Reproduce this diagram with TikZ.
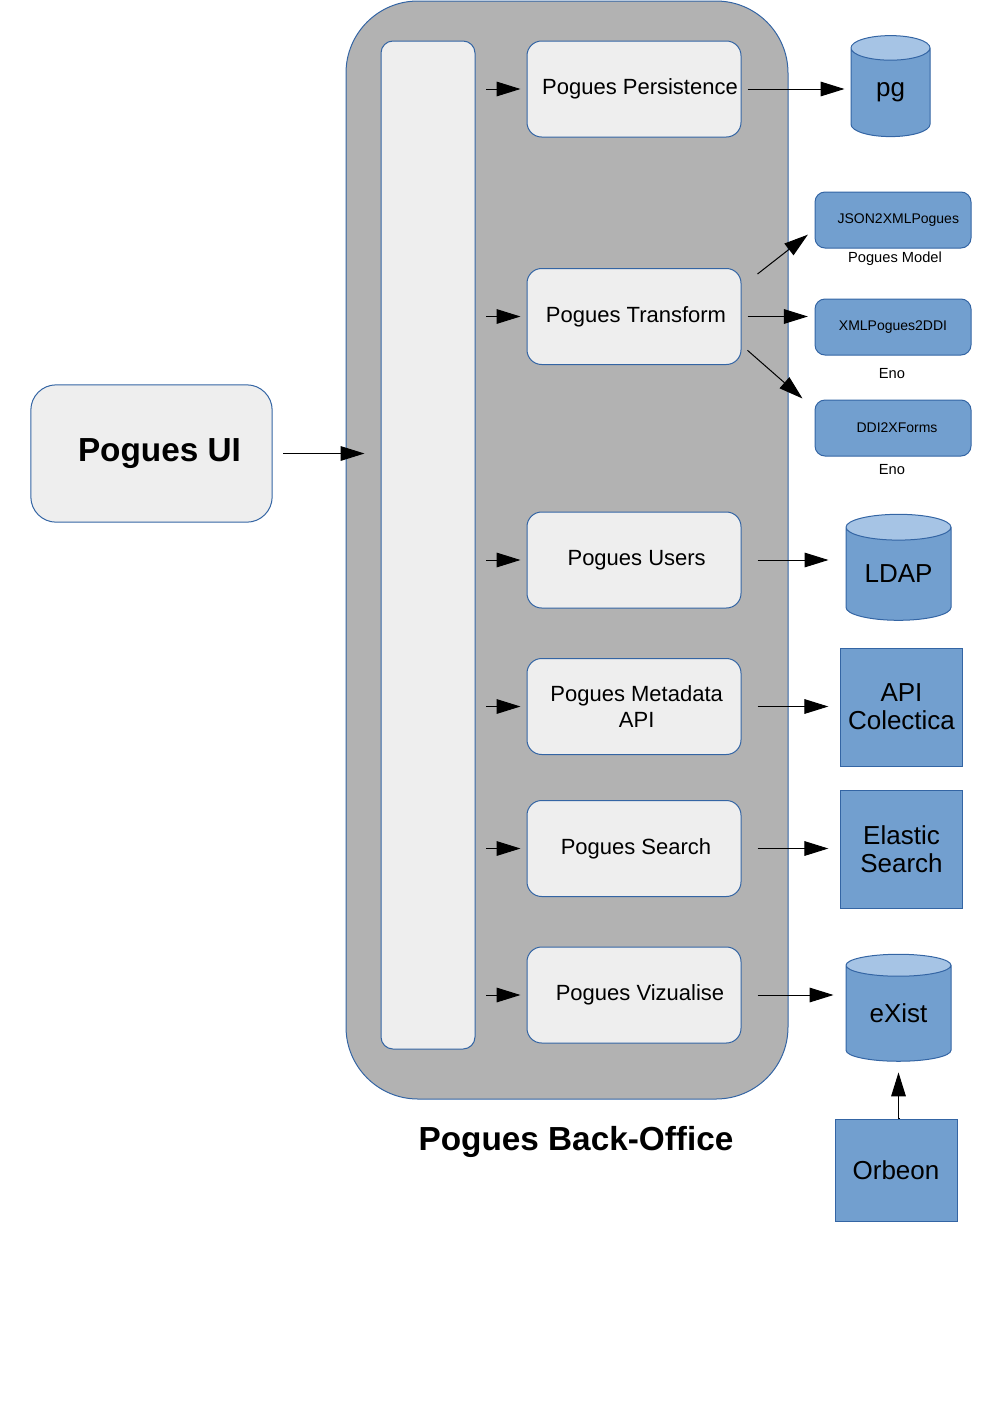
\documentclass[tikz,border=0pt]{standalone}
\usepackage{fontspec}
\setmainfont{Liberation Sans}
\usetikzlibrary{shapes.geometric, arrows.meta, positioning}
\definecolor{officegray}{RGB}{178, 178, 178}
\definecolor{boxgray}{RGB}{238, 238, 238}
\definecolor{toolblue}{RGB}{114, 159, 207}
\definecolor{dbtop}{RGB}{166, 196, 229}
\definecolor{edgeblue}{RGB}{52, 101, 164}

\tikzset{
  service/.style={draw=edgeblue, fill=boxgray, rounded corners=11pt, line width=0.75pt,
                  minimum width=160.5pt, minimum height=72pt, inner sep=0pt, align=center,
                  font=\fontsize{16.5}{20}\selectfont},
  tool/.style={draw=edgeblue, fill=toolblue, rounded corners=7.5pt, line width=0.75pt,
               minimum width=117pt, minimum height=42pt, inner sep=0pt,
               font=\fontsize{10.5}{12}\selectfont},
  store/.style={draw=edgeblue, fill=toolblue, line width=0.75pt, minimum width=91pt,
                minimum height=88.5pt, inner sep=0pt, align=center,
                font=\fontsize{19.5}{21}\selectfont},
  db/.style={cylinder, shape border rotate=90, draw=edgeblue, line width=0.75pt,
             cylinder uses custom fill, cylinder body fill=toolblue, cylinder end fill=dbtop,
             inner sep=0pt, font=\fontsize{19.5}{21}\selectfont},
  note/.style={font=\fontsize{11}{13}\selectfont},
  link/.style={-{Triangle[length=18pt, width=11pt]}, line width=0.75pt}
}

\begin{document}
\begin{tikzpicture}[x=0.75pt, y=-0.75pt]
  \useasboundingbox (0,0) rectangle (992,1403);

  % back-office container
  \node[draw=edgeblue, fill=officegray, rounded corners=54pt, line width=0.75pt,
        minimum width=331.5pt, minimum height=823.5pt] (office) at (567,550) {};
  \node[draw=edgeblue, fill=boxgray, rounded corners=9pt, line width=0.75pt,
        minimum width=70.5pt, minimum height=756pt] (bar) at (428,545) {};
  \node[font=\fontsize{25}{30}\selectfont\bfseries] (title) at (576,1142) {Pogues Back-Office};

  % front end
  \node[draw=edgeblue, fill=boxgray, rounded corners=19pt, line width=0.75pt,
        minimum width=181pt, minimum height=103pt,
        font=\fontsize{25}{30}\selectfont\bfseries] (ui) at (151.5,453.5) {\hspace{12pt}Pogues UI};

  % services
  \node[service] (persist) at (634,89) {\hspace{9pt}Pogues Persistence};
  \node[service] (transform) at (634,316.5) {\hspace{3pt}Pogues Transform};
  \node[service] (users) at (634,560) {\hspace{4pt}Pogues Users};
  \node[service] (metadata) at (634,706.5) {\hspace{4pt}Pogues Metadata\\\hspace{4pt}API};
  \node[service] (search) at (634,848.5) {\hspace{3pt}Pogues Search};
  \node[service] (vizualise) at (634,995) {\hspace{9pt}Pogues Vizualise};

  % transformation tools
  \node[tool] (json) at (893,220) {\hspace{8pt}JSON2XMLPogues};
  \node[note] (jsonlabel) at (895,259) {Pogues Model};
  \node[tool] (xml) at (893,327) {XMLPogues2DDI};
  \node[note] (xmllabel) at (892,374) {Eno};
  \node[tool] (ddi) at (893,428) {\hspace{6pt}DDI2XForms};
  \node[note] (ddilabel) at (892,470) {Eno};

  % storage
  \node[db, minimum width=79pt*0.75, minimum height=101pt*0.75, aspect=0.85] (pg) at (890.5,92.5) {pg};
  \node[db, minimum width=105pt*0.75, minimum height=106pt*0.75, aspect=0.38] (ldap) at (898.5,574) {LDAP};
  \node[store] (colectica) at (901.5,707) {API\\Colectica};
  \node[store] (elastic) at (901.5,849) {Elastic\\Search};
  \node[db, minimum width=105pt*0.75, minimum height=107pt*0.75, aspect=0.38] (exist) at (898.5,1013.5) {eXist};
  \node[store, minimum width=91.5pt, minimum height=76.5pt] (orbeon) at (896,1170) {Orbeon};

  % calls
  \draw[link, shorten <=8pt, shorten >=12pt] (ui.east) -- (bar.west |- ui.east);
  \foreach \svc in {persist, transform, users, metadata, search, vizualise}
    \draw[link, shorten >=4.5pt] ([xshift=8pt]bar.east |- \svc.west) -- (\svc.west);
  \draw[link, shorten <=4.5pt, shorten >=4.5pt] (persist.east) -- (pg.west |- persist.east);
  \draw[link] ([shift={(12pt,-4.5pt)}]transform.north east) -- ([shift={(-5pt,-11pt)}]json.west);
  \draw[link, shorten <=4.5pt, shorten >=5pt] (transform.east) -- (xml.west |- transform.east);
  \draw[link] ([shift={(4.5pt,11pt)}]transform.south east) -- ([shift={(-9pt,0.75pt)}]ddi.north west);
  \draw[link, shorten <=12pt, shorten >=12.75pt] (users.east) -- (ldap.west |- users.east);
  \draw[link, shorten <=12pt, shorten >=9pt] (metadata.east) -- (colectica.west |- metadata.east);
  \draw[link, shorten <=12pt, shorten >=9pt] (search.east) -- (elastic.west |- search.east);
  \draw[link, shorten <=12pt, shorten >=9pt] (vizualise.east) -- (exist.west |- vizualise.east);
  \draw[link, shorten <=3pt, shorten >=8pt] (orbeon.north) -- (orbeon.north -| exist.south) -- (exist.south);
\end{tikzpicture}
\end{document}
